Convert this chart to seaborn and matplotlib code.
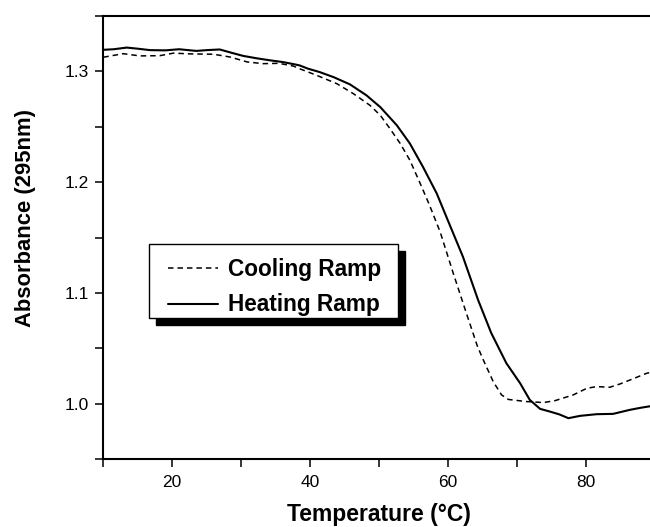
import matplotlib
matplotlib.use("Agg")
import matplotlib.pyplot as plt
import matplotlib.transforms as mtransforms
from matplotlib.patches import Rectangle
from matplotlib.ticker import MultipleLocator, FormatStrFormatter
import pandas as pd
import seaborn as sns

# ---- data ----
series_labels = ["Cooling Ramp", "Heating Ramp"]

cooling_temp = [10.0, 12.9, 15.3, 18.2, 20.2, 22.6, 26.0, 28.4, 30.9, 33.2, 35.5,
                37.6, 38.5, 41.0, 43.9, 46.3, 48.7, 50.2, 51.6, 53.1, 54.5, 56.0,
                57.3, 58.9, 60.8, 62.7, 64.3, 65.2, 66.6, 67.8, 68.8, 71.4, 73.9,
                75.6, 78.2, 80.2, 81.6, 83.5, 85.0, 86.7, 88.9, 90.0]
cooling_abs = [1.3128, 1.3160, 1.3140, 1.3142, 1.3165, 1.3158, 1.3155, 1.3130,
               1.3085, 1.3070, 1.3073, 1.3048, 1.3024, 1.2964, 1.2889, 1.2799,
               1.2694, 1.2604, 1.2484, 1.2349, 1.2198, 1.1988, 1.1800, 1.1550,
               1.1177, 1.0817, 1.0520, 1.0390, 1.0200, 1.0081, 1.0040, 1.0021,
               1.0012, 1.0030, 1.0081, 1.0141, 1.0156, 1.0150, 1.0180, 1.0222,
               1.0277, 1.0290]

heating_temp = [10.0, 11.5, 13.4, 15.0, 16.8, 19.0, 21.0, 23.5, 25.0, 26.9, 28.5,
                30.3, 32.3, 34.2, 36.0, 37.6, 38.5, 39.7, 41.4, 43.4, 45.8, 48.2,
                50.2, 52.6, 54.5, 56.4, 58.4, 59.8, 61.3, 62.2, 64.4, 66.3, 68.5,
                70.5, 71.9, 73.4, 74.8, 76.2, 77.5, 79.2, 81.6, 84.0, 86.4, 88.0,
                90.0]
heating_abs = [1.3195, 1.3200, 1.3215, 1.3205, 1.3192, 1.3190, 1.3200, 1.3185,
               1.3192, 1.3198, 1.3170, 1.3140, 1.3118, 1.3100, 1.3085, 1.3066,
               1.3054, 1.3025, 1.2994, 1.2949, 1.2883, 1.2784, 1.2678, 1.2514,
               1.2349, 1.2138, 1.1898, 1.1687, 1.1462, 1.1327, 1.0937, 1.0640,
               1.0367, 1.0186, 1.0036, 0.9955, 0.9931, 0.9905, 0.9871, 0.9892,
               0.9907, 0.9910, 0.9946, 0.9965, 0.9985]

x_ticks = [20, 40, 60, 80]
y_ticks = [1.0, 1.1, 1.2, 1.3]
x_label = "Temperature (°C)"
y_label = "Absorbance (295nm)"

# ---- style ----
sns.set_style("ticks")
plt.rcParams["font.family"] = ["Liberation Sans", "DejaVu Sans"]
plt.rcParams["text.color"] = "black"
plt.rcParams["axes.labelcolor"] = "black"
plt.rcParams["xtick.color"] = "black"
plt.rcParams["ytick.color"] = "black"

W, H = 650, 527
fig = plt.figure(figsize=(W / 100, H / 100), dpi=100)
ax = fig.add_axes([103.3 / W, 1 - 459.3 / H, (654.5 - 103.3) / W, (459.3 - 16) / H])

cool = pd.DataFrame({"T": cooling_temp, "A": cooling_abs})
heat = pd.DataFrame({"T": heating_temp, "A": heating_abs})

sns.lineplot(data=cool, x="T", y="A", ax=ax, color="black", linewidth=1.1,
             linestyle=(0, (3.6, 2.6)), label=series_labels[0], estimator=None)
sns.lineplot(data=heat, x="T", y="A", ax=ax, color="black", linewidth=1.5,
             label=series_labels[1], estimator=None)

ax.set_xlim(10, 90)
ax.set_ylim(0.95, 1.35)
ax.set_xticks(x_ticks)
ax.set_yticks(y_ticks)
ax.xaxis.set_minor_locator(MultipleLocator(10))
ax.yaxis.set_minor_locator(MultipleLocator(0.05))
ax.yaxis.set_major_formatter(FormatStrFormatter("%.1f"))

for side in ["left", "bottom", "top"]:
    ax.spines[side].set_linewidth(1.5)
    ax.spines[side].set_color("black")
ax.spines["right"].set_visible(False)

ax.tick_params(axis="both", which="both", direction="out", length=5.5, width=1.1,
               color="black", top=False, right=False)
ax.tick_params(axis="both", which="major", labelsize=12.5, labelcolor="black")
ax.tick_params(axis="x", which="major", pad=6)
ax.tick_params(axis="y", which="major", pad=5)

ax.set_xlabel(x_label, fontsize=16.5, fontweight="bold", labelpad=9, color="black")
ax.set_ylabel(y_label, fontsize=15.8, fontweight="bold", color="black")
ax.yaxis.set_label_coords(-0.122, 0.545)

leg = ax.legend(loc="upper left", bbox_to_anchor=(168 / W, 1 - 258 / H),
                bbox_transform=fig.transFigure, borderaxespad=0, borderpad=0,
                frameon=False, prop={"weight": "bold", "size": 16.3},
                handlelength=2.2, handletextpad=0.44, labelspacing=0.55,
                labelcolor="black")
leg.set_zorder(6)

fig.canvas.draw()
bb = leg.get_window_extent()
padL, padR, padT, padB = 19, 17, 14, 2
fx0, fy0 = bb.x0 - padL, bb.y0 - padB
fw, fh = bb.width + padL + padR, bb.height + padT + padB
ident = mtransforms.IdentityTransform()
ax.add_patch(Rectangle((fx0 + 7, fy0 - 7), fw, fh, transform=ident, facecolor="black",
                       edgecolor="black", zorder=4, clip_on=False))
ax.add_patch(Rectangle((fx0, fy0), fw, fh, transform=ident, facecolor="white",
                       edgecolor="black", linewidth=1.0, zorder=5, clip_on=False))

fig.savefig("out.png", dpi=100)
